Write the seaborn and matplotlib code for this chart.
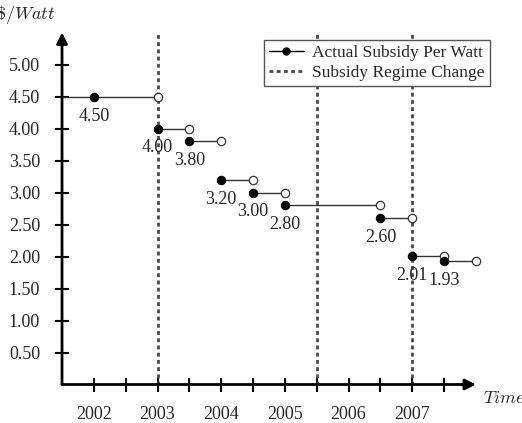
import matplotlib
matplotlib.use("Agg")
import matplotlib.pyplot as plt
from matplotlib.lines import Line2D
import seaborn as sns
import pandas as pd

# subsidy steps
dot_x = [2002, 2003, 2003.5, 2004, 2004.5, 2005, 2006.5, 2007, 2007.5]
end_x = [2003, 2003.5, 2004, 2004.5, 2005, 2006.5, 2007, 2007.5, 2008]
subsidy = [4.50, 4.00, 3.80, 3.20, 3.00, 2.80, 2.60, 2.01, 1.93]
line_start = [2001.5] + dot_x[1:]
regime_changes = [2003, 2005.5, 2007]
year_ticks = [2002, 2002.5, 2003, 2003.5, 2004, 2004.5, 2005, 2005.5, 2006, 2006.5, 2007, 2007.5]
year_labels = ["2002", "", "2003", "", "2004", "", "2005", "", "2006", "", "2007", ""]
y_ticks = [0.5, 1.0, 1.5, 2.0, 2.5, 3.0, 3.5, 4.0, 4.5, 5.0]

df = pd.DataFrame({"start": dot_x, "end": end_x, "value": subsidy, "line_start": line_start})

sns.set_style("white")
plt.rcParams["font.family"] = ["Liberation Serif", "DejaVu Serif"]
plt.rcParams["mathtext.fontset"] = "cm"

fig = plt.figure(figsize=(5.22, 4.23), dpi=100)
ax = fig.add_axes([0.1188, 0.091, 0.793, 0.832])

# regime change lines
for xc in regime_changes:
    ax.axvline(xc, color="#4a4a4a", lw=2, linestyle=(0, (1.4, 1.2)), zorder=1)

# step segments
ax.hlines(df["value"], df["line_start"], df["end"], color="#333333", lw=1, zorder=2)
sns.scatterplot(data=df, x="start", y="value", color="black", s=36, edgecolor="black",
                linewidth=0.8, ax=ax, zorder=4, clip_on=False)
sns.scatterplot(data=df, x="end", y="value", color="white", s=36, edgecolor="#333333",
                linewidth=0.9, ax=ax, zorder=3, clip_on=False)

for x, v in zip(df["start"], df["value"]):
    ax.annotate(f"{v:.2f}", (x, v), xytext=(0, -14), textcoords="offset points",
                ha="center", va="center", fontsize=13)

ax.set_xlim(2001.5, 2008.0)
ax.set_ylim(0, 5.5)
ax.set_xticks(year_ticks)
ax.set_xticklabels(year_labels)
ax.set_yticks(y_ticks)
ax.set_yticklabels([f"{t:.2f}" for t in y_ticks])
ax.tick_params(bottom=True, left=True, direction="inout", length=9.5, width=1.5,
               color="black", labelsize=13)
ax.tick_params(axis="x", pad=11)
ax.tick_params(axis="y", pad=11)
ax.set_xlabel("")
ax.set_ylabel("")

for s in ax.spines.values():
    s.set_visible(False)

# axes with arrow heads
ax.annotate("", xy=(1, 0), xytext=(0, 0), xycoords="axes fraction",
            arrowprops=dict(arrowstyle="-|>", lw=2, color="black", mutation_scale=16,
                            shrinkA=0, shrinkB=0))
ax.annotate("", xy=(0, 1), xytext=(0, 0), xycoords="axes fraction",
            arrowprops=dict(arrowstyle="-|>", lw=2, color="black", mutation_scale=16,
                            shrinkA=0, shrinkB=0))

fig.text(483 / 522, 1 - 398 / 423, r"$Time$", fontsize=13, ha="left", va="center")
fig.text(-4 / 522, 1 - 15 / 423, r"$\$/Watt$", fontsize=13, ha="left", va="center")

handles = [
    Line2D([0], [0], color="black", lw=1, marker="o", markersize=5),
    Line2D([0], [0], color="#4a4a4a", lw=2, linestyle=(0, (1.4, 1.2))),
]
leg = ax.legend(handles, ["Actual Subsidy Per Watt", "Subsidy Regime Change"],
                loc="upper right", bbox_to_anchor=(490 / 522, 1 - 40 / 423),
                bbox_transform=fig.transFigure, fontsize=12.5, fancybox=False,
                framealpha=1, edgecolor="#555555", handlelength=2, borderpad=0.3,
                labelspacing=0.2, handletextpad=0.5, borderaxespad=0)
leg.get_frame().set_linewidth(1)

fig.savefig("out.png", dpi=100)
